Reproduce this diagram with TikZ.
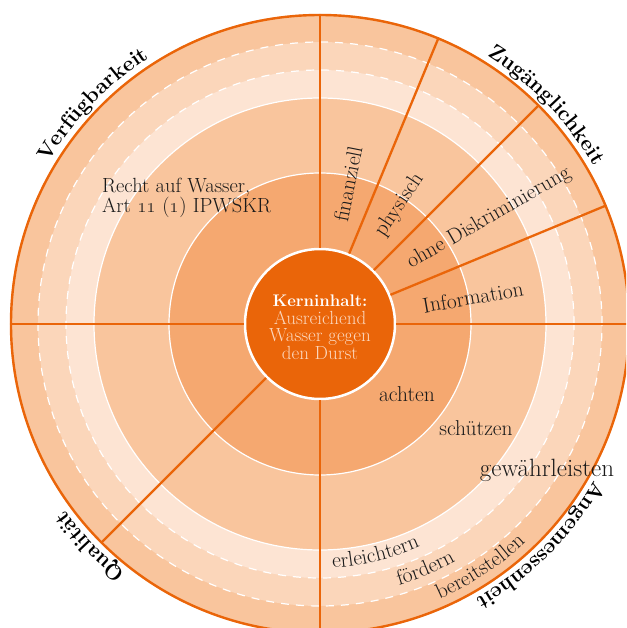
\documentclass[tikz,border=0pt]{standalone}
\usepackage{tikz}
\usetikzlibrary{decorations.text}

\definecolor{kernorange}{HTML}{EA6509}
\definecolor{kerntext}{HTML}{FCD7BD}
\definecolor{bandA}{HTML}{F9C59D}
\definecolor{bandB}{HTML}{FBD6BA}
\definecolor{bandC}{HTML}{FDE4D3}
\definecolor{bandE}{HTML}{F5A870}
\definecolor{ink}{HTML}{1A1A1A}

\begin{document}
\begin{tikzpicture}[x=1pt, y=1pt]

		% Define styles
		\tikzstyle{spoke} = [draw=kernorange, line width=2.3pt]
		\tikzstyle{ringline} = [draw=white, line width=1.2pt]
		\tikzstyle{dashline} = [draw=white, line width=1.2pt,
		dash pattern=on 8pt off 7pt]
		\tikzstyle{core} = [
		circle, minimum size=150pt, inner sep=0pt, fill=kernorange,
		draw=white, line width=2.5pt, text=kerntext, align=center,
		font=\fontsize{19}{17.8}\selectfont]
		\tikzstyle{ringtext} = [text=ink, inner sep=0pt,
		font=\fontsize{21.5}{21.5}\selectfont]

		% Frame
		\useasboundingbox (-320,-304) rectangle (306,324);
		\fill[white] (-320,-304) rectangle (306,324);
		\clip (-320,-304) rectangle (306,324);

		% Rings
		\fill[bandA] (0,0) circle (310);
		\fill[bandB] (0,0) circle (282);
		\fill[bandC] (0,0) circle (254);
		\fill[bandA] (0,0) circle (226);
		\fill[bandE] (0,0) circle (151);
		\draw[dashline] (0,0) circle (282);
		\draw[dashline] (0,0) circle (254);
		\draw[ringline] (0,0) circle (226);
		\draw[ringline] (0,0) circle (151);
		\draw[kernorange, line width=2.4pt] (0,0) circle (309);

		% Nodes
		\node (kern) [core] at (0,0) {
			\rule{0pt}{18pt}{\color{white}\fontsize{16.8}{17.8}\selectfont\bfseries Kerninhalt:}\\
			Ausreichend\\
			Wasser gegen\\
			den Durst
		};

		% Spokes
		\foreach \a in {0,22.5,45,67.5,90,180,225,270}
		\draw[spoke] (kern) -- (\a:310);

		% Inner labels
		\node (recht) [ringtext, align=left, anchor=north west,
		font=\fontsize{20.5}{18.8}\selectfont] at (-218,146) {
			Recht auf Wasser,\\
			Art \oldstylenums{11} (\oldstylenums{1}) IPWSKR
		};
		\node (finanziell) [ringtext, rotate=78.75] at (78.75:143) {finanziell};
		\node (physisch) [ringtext, rotate=56.25] at (56.25:143) {physisch};
		\node (diskr) [ringtext, rotate=30] at (169,106) {ohne Diskriminierung};
		\node (info) [ringtext, rotate=10] at (153,27) {Information};
		\node (achten) [ringtext] at (87,-70) {achten};
		\node (schuetzen) [ringtext] at (156,-104) {schützen};
		\node (gewaehr) [ringtext, anchor=base,
		font=\fontsize{25}{25}\selectfont] at (227,-152) {gewährleisten};

		% Labels along the rings
		\path[decorate, decoration={text along path, text align=center,
			text={|\fontsize{21.5}{21.5}\selectfont\color{ink}|erleichtern}}]
		(-116.4:244) arc[start angle=-116.4, end angle=-36.4, radius=244];
		\path[decorate, decoration={text along path, text align=center,
			text={|\fontsize{21.5}{21.5}\selectfont\color{ink}|fördern}}]
		(-106.7:273) arc[start angle=-106.7, end angle=-26.7, radius=273];
		\path[decorate, decoration={text along path, text align=center,
			text={|\fontsize{21.5}{21.5}\selectfont\color{ink}|bereitstellen}}]
		(-96.6:300) arc[start angle=-96.6, end angle=-16.6, radius=300];

		% Outer titles
		\path[decorate, decoration={text along path, text align=center,
			text={|\fontsize{21.5}{21.5}\selectfont\bfseries|Verfügbarkeit}}]
		(176:316) arc[start angle=176, end angle=96, radius=316];
		\path[decorate, decoration={text along path, text align=center,
			text={|\fontsize{21.5}{21.5}\selectfont\bfseries|Zugänglichkeit}}]
		(84:316) arc[start angle=84, end angle=4, radius=316];
		\path[decorate, decoration={text along path, text align=center,
			text={|\fontsize{21.5}{21.5}\selectfont\bfseries|Qualität}}]
		(264:316) arc[start angle=264, end angle=184, radius=316];
		\path[decorate, decoration={text along path, text align=center,
			text={|\fontsize{21.5}{21.5}\selectfont\bfseries|Angemessenheit}}]
		(355:316) arc[start angle=355, end angle=275, radius=316];
	\end{tikzpicture}
\end{document}
